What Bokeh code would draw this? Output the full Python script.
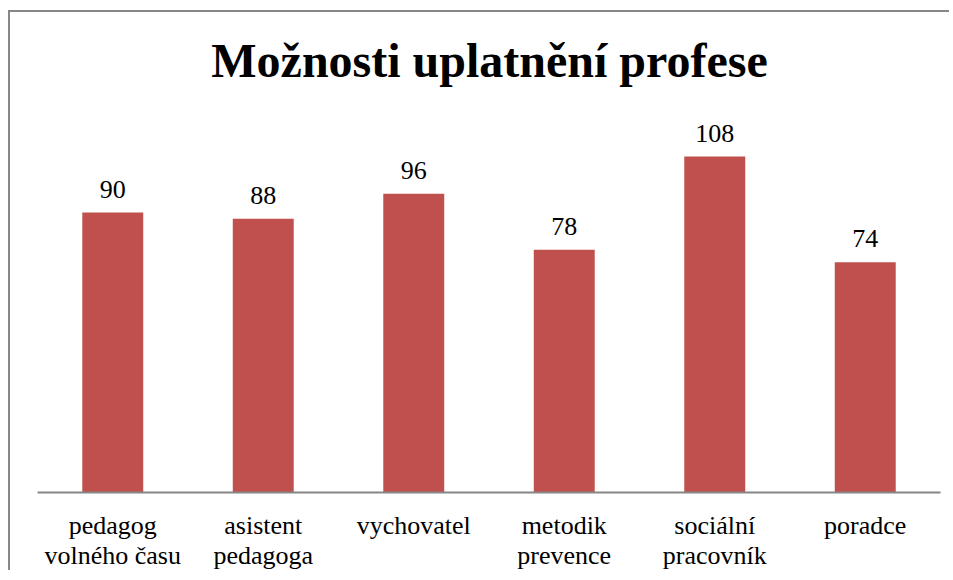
from bokeh.plotting import figure
from bokeh.models import ColumnDataSource, LabelSet, Label, FactorRange, Range1d
from bokeh.embed import file_html
from bokeh.resources import INLINE

categories = ["pedagog\nvolného času", "asistent\npedagoga", "vychovatel",
              "metodik\nprevence", "sociální\npracovník", "poradce"]
values = [90, 88, 96, 78, 108, 74]
title_text = "Možnosti uplatnění profese"

FONT = "Times New Roman"

src = ColumnDataSource(data=dict(cat=categories, val=values, lab=[str(v) for v in values]))

p = figure(width=941, height=560, output_backend="svg", toolbar_location=None,
           x_range=FactorRange(*categories, range_padding=0), y_range=Range1d(0, 154.3),
           min_border_left=27, min_border_right=11, min_border_top=0, min_border_bottom=80)
p.styles = {"box-shadow": "-2px -2px 0px 0px #878787",
            "position": "relative", "left": "10px", "top": "12px",
            "overflow": "hidden"}
p.background_fill_color = "white"
p.border_fill_color = "white"
p.outline_line_color = None
p.xgrid.grid_line_color = None
p.ygrid.grid_line_color = None
p.yaxis.visible = False

p.vbar(x="cat", top="val", width=0.405, source=src, fill_color="#C0504D", line_color=None)

ax = p.xaxis[0]
ax.axis_line_color = "#868686"
ax.axis_line_width = 2
ax.major_tick_line_color = None
ax.minor_tick_line_color = None
ax.major_label_text_font = FONT
ax.major_label_text_font_size = "26px"
ax.major_label_text_color = "black"
ax.major_label_text_line_height = 1.05
ax.major_label_standoff = 12

labels = LabelSet(x="cat", y="val", text="lab", source=src, y_offset=15,
                  text_align="center", text_baseline="alphabetic",
                  text_font=FONT, text_font_size="26px", text_color="black")
p.add_layout(labels)

title = Label(x=452, y=432, x_units="screen", y_units="screen", text=title_text,
              text_align="center", text_baseline="alphabetic", text_font=FONT,
              text_font_size="48px", text_font_style="bold", text_color="black")
p.add_layout(title)

open("out.html", "w").write(file_html(p, INLINE))
